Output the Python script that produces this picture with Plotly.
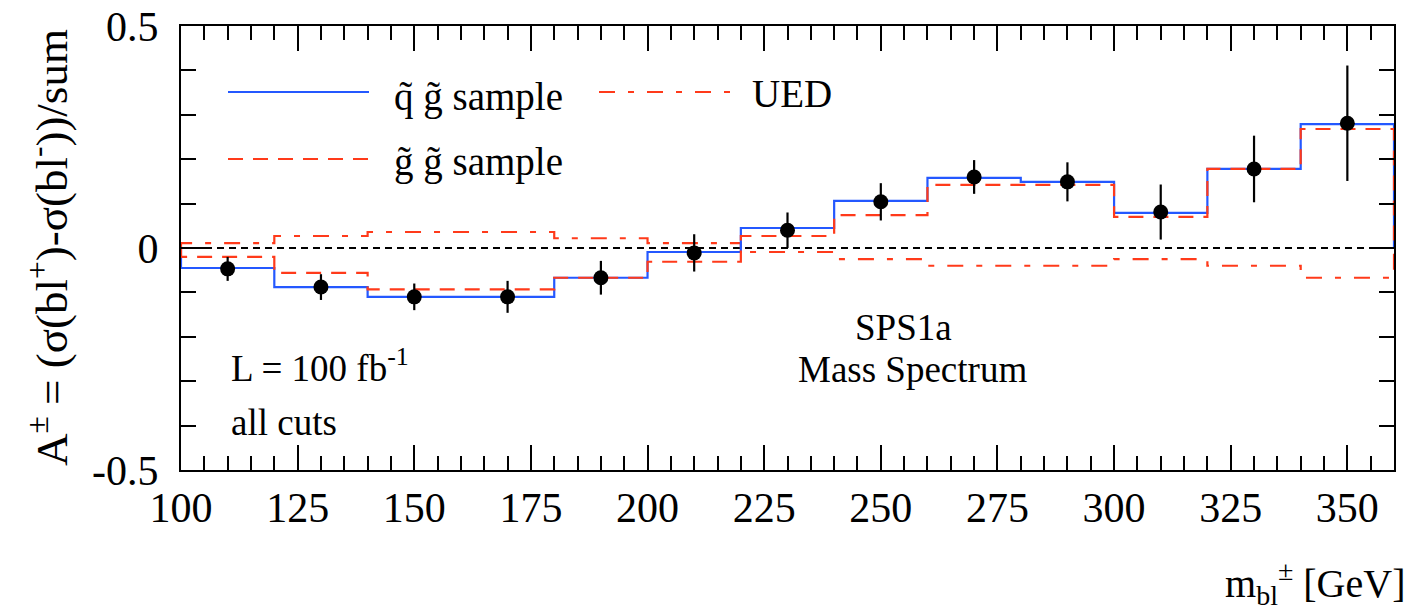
import plotly.graph_objects as go

# ---------------- data ----------------
bin_edges = [100, 120, 140, 160, 180, 200, 220, 240, 260, 280, 300, 320, 340, 360]
bin_centers = [110, 130, 150, 170, 190, 210, 230, 250, 270, 290, 310, 330, 350]

qg_sample = [-0.045, -0.088, -0.110, -0.110, -0.067, -0.009, 0.045, 0.106, 0.158, 0.149, 0.079, 0.178, 0.279]
gg_sample = [-0.020, -0.056, -0.093, -0.093, -0.067, -0.031, 0.027, 0.074, 0.142, 0.142, 0.070, 0.178, 0.268]
ued = [0.011, 0.027, 0.036, 0.036, 0.022, 0.011, -0.009, -0.025, -0.040, -0.040, -0.025, -0.040, -0.067]

points = [-0.047, -0.088, -0.110, -0.110, -0.067, -0.011, 0.040, 0.104, 0.160, 0.149, 0.081, 0.178, 0.281]
point_err = [0.027, 0.029, 0.030, 0.036, 0.038, 0.042, 0.040, 0.042, 0.038, 0.044, 0.062, 0.075, 0.130]

x_ticks = [100, 125, 150, 175, 200, 225, 250, 275, 300, 325, 350]
y_ticks = [-0.5, 0, 0.5]
y_tick_text = ["-0.5", "0", "0.5"]

BLUE = "#2458ff"
RED = "#ff3a1a"
FONT = "Liberation Serif"

# plot area in pixels
L, R, T, B = 181, 1394, 26, 470
W, H = 1412, 616


def px(x):
    return (x - L) / (R - L)


def py(y):
    return (B - y) / (B - T)


def step(vals):
    xs = [bin_edges[0]] + bin_edges[:-1] + [bin_edges[-1], bin_edges[-1]]
    ys = [0] + vals + [vals[-1], 0]
    return xs, ys


fig = go.Figure()

# zero reference line
fig.add_shape(type="line", xref="x", yref="y", x0=bin_edges[0], x1=bin_edges[-1], y0=0, y1=0,
              line=dict(color="black", width=2, dash="7px,5px"), layer="below")

for vals, color, dash in [(ued, RED, "16px,13px,6px,13px"),
                          (qg_sample, BLUE, "solid"),
                          (gg_sample, RED, "15px,10px")]:
    xs, ys = step(vals)
    fig.add_trace(go.Scatter(x=xs, y=ys, mode="lines", line_shape="hv",
                             line=dict(color=color, width=2.2, dash=dash),
                             showlegend=False, hoverinfo="skip"))

fig.add_trace(go.Scatter(x=bin_centers, y=points, mode="markers",
                         marker=dict(color="black", size=15),
                         error_y=dict(type="data", array=point_err, color="black", thickness=2.2, width=0),
                         showlegend=False))

# manual legend
leg = [
    (228, 369, 92, BLUE, "solid", 392, 97, "q\u0303 g\u0303 sample"),
    (228, 369, 159, RED, "15px,10px", 392, 162, "g\u0303 g\u0303 sample"),
    (599, 735, 92, RED, "16px,13px,6px,13px", 750, 93, "UED"),
]
for x0, x1, yl, col, dash, tx, ty, txt in leg:
    fig.add_shape(type="line", xref="paper", yref="paper", x0=px(x0), x1=px(x1), y0=py(yl), y1=py(yl),
                  line=dict(color=col, width=2.2, dash=dash))
    fig.add_annotation(xref="paper", yref="paper", x=px(tx), y=py(ty), text=txt, showarrow=False,
                       xanchor="left", yanchor="middle", font=dict(size=39, color="black", family=FONT))

texts = [
    (229, 365, "left", "L = 100 fb<sup>-1</sup>"),
    (229, 422, "left", "all cuts"),
    (903, 327, "center", "SPS1a"),
    (912, 369, "center", "Mass Spectrum"),
]
for tx, ty, anc, txt in texts:
    fig.add_annotation(xref="paper", yref="paper", x=px(tx), y=py(ty), text=txt, showarrow=False,
                       xanchor=anc, yanchor="middle", font=dict(size=37, color="black", family=FONT))

# axis titles
fig.add_annotation(xref="paper", yref="paper", x=px(48), y=py(248), textangle=-90,
                   text="A<sup>±</sup> = (σ(bl<sup>+</sup>)-σ(bl<sup>-</sup>))/sum", showarrow=False,
                   xanchor="center", yanchor="middle", font=dict(size=45, color="black", family=FONT))
fig.add_annotation(xref="paper", yref="paper", x=px(1407), y=py(583), xanchor="right", yanchor="middle",
                   text="m<sub>bl</sub><sup>±</sup> [GeV]", showarrow=False,
                   font=dict(size=40, color="black", family=FONT))

axis_common = dict(showline=True, linecolor="black", linewidth=2, mirror="ticks", showgrid=False,
                   zeroline=False, ticks="inside", tickcolor="black", tickwidth=2, ticklen=25,
                   automargin=False,
                   tickfont=dict(size=42, color="black", family=FONT))

fig.update_xaxes(range=[100, 360], tickmode="array", tickvals=x_ticks,
                 minor=dict(dtick=5, tick0=100, ticks="inside", ticklen=14, tickcolor="black", tickwidth=2, showgrid=False),
                 ticklabelstandoff=0, **axis_common)
fig.update_yaxes(range=[-0.5, 0.5], tickmode="array", tickvals=y_ticks, ticktext=y_tick_text,
                 minor=dict(dtick=0.1, tick0=0, ticks="inside", ticklen=15, tickcolor="black", tickwidth=2, showgrid=False),
                 ticklabelstandoff=12, **axis_common)

fig.update_layout(width=W, height=H, margin=dict(l=L, r=W - R, t=T, b=H - B, pad=0, autoexpand=False),
                  plot_bgcolor="white", paper_bgcolor="white",
                  font=dict(family=FONT, color="black"))

fig.write_html("out.html")
